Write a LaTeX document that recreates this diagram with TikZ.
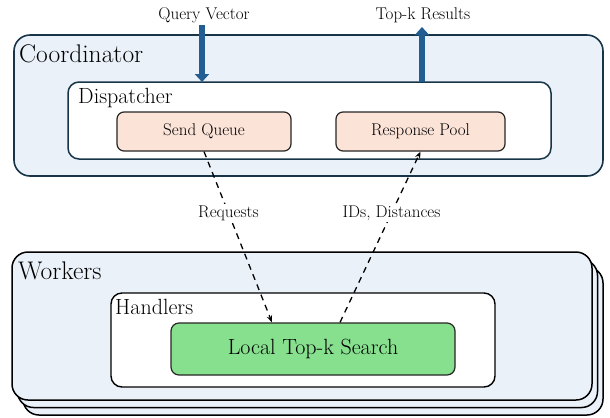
\documentclass[tikz,border=0pt]{standalone}
\usepackage{fontspec}
\usetikzlibrary{arrows.meta,calc}
\definecolor{coordfill}{HTML}{EAF1F9}
\definecolor{navy}{HTML}{183548}
\definecolor{peach}{HTML}{FCE3D8}
\definecolor{mint}{HTML}{86E08E}
\definecolor{arrowblue}{HTML}{225D94}
\tikzset{
  bigbox/.style={draw=navy, line width=1.6bp, fill=coordfill, rounded corners=16bp},
  midbox/.style={draw=navy, line width=1.5bp, fill=white, rounded corners=11bp},
  workbox/.style={draw=black, line width=1.5bp, fill=coordfill, rounded corners=16bp},
  handbox/.style={draw=black, line width=1.4bp, fill=white, rounded corners=11bp},
  peachbox/.style={draw=black!85, line width=1.2bp, fill=peach, rounded corners=7bp},
  greenbox/.style={draw=black!85, line width=1.2bp, fill=mint, rounded corners=8bp},
  bigfont/.style={font=\rmfamily\fontsize{25.5bp}{29bp}\selectfont},
  midfont/.style={font=\rmfamily\fontsize{22bp}{25bp}\selectfont},
  smallfont/.style={font=\rmfamily\fontsize{17bp}{20bp}\selectfont},
  flowarrow/.style={line width=6.5bp, arrowblue, -{Triangle[length=8bp,width=14bp]}},
  dasharrow/.style={line width=1.3bp, black, dash pattern=on 6bp off 5bp, -{Stealth[length=7bp,width=5.5bp]}},
  lbl/.style={smallfont, fill=white, inner sep=1.5bp}
}
\begin{document}
\begin{tikzpicture}[x=1bp,y=-1bp]
\useasboundingbox (0,0) rectangle (610,417);
% Coordinator
\draw[bigbox] (14,35) rectangle (603,176);
\node[bigfont, anchor=base west, inner sep=0] (coordlbl) at (19,62) {Coordinator};
\draw[midbox] (68,82) rectangle (551,159);
\node[midfont, anchor=base west, inner sep=0] (displbl) at (78,103) {Dispatcher};
\node[peachbox, smallfont, minimum width=174bp, minimum height=39bp] (sq) at (204,131.5) {Send Queue};
\node[peachbox, smallfont, minimum width=169bp, minimum height=39bp] (rp) at (420.5,131.5) {Response Pool};
% Workers stack
\draw[workbox] (23,267) rectangle (603,415);
\draw[workbox] (17.5,259.5) rectangle (597.5,407.5);
\draw[workbox] (12,252) rectangle (592,400);
\node[bigfont, anchor=base west, inner sep=0] (worklbl) at (18,279) {Workers};
\draw[handbox] (111,293) rectangle (495,387);
\node[midfont, anchor=base west, inner sep=0] (handlbl) at (115,314) {Handlers};
\node[greenbox, midfont, minimum width=284bp, minimum height=52bp] (ls) at (313,349) {Local Top-k Search};
% top labels and big arrows
\node[smallfont, anchor=base] (qv) at (204,19) {Query Vector};
\node[smallfont, anchor=base] (tk) at (423,19) {Top-k Results};
\coordinate (qtop) at (202,25);
\coordinate (qbot) at (202,82);
\coordinate (ttop) at (422,27);
\coordinate (tbot) at (422,82);
\draw[flowarrow] (qtop) -- (qbot);
\draw[flowarrow] (tbot) -- (ttop);
% dashed arrows
\coordinate (reqend) at ($(ls.north)+(-41,0)$);
\coordinate (idstart) at ($(ls.north)+(27,0)$);
\draw[dasharrow] (sq.south) -- node[lbl, pos=0.36] (reqlbl) {Requests} (reqend);
\draw[dasharrow] (idstart) -- node[lbl, pos=0.64] (idlbl) {IDs, Distances} (rp.south);
\end{tikzpicture}
\end{document}
